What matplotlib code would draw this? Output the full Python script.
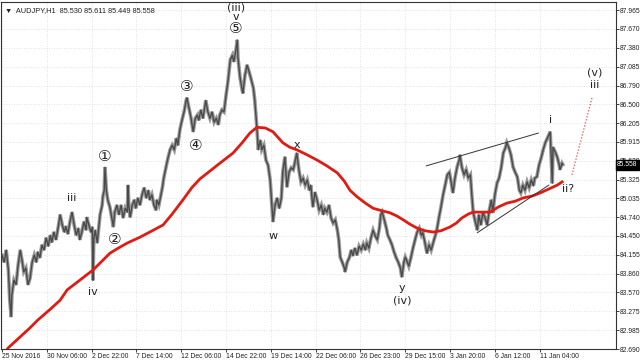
import matplotlib
matplotlib.use("Agg")
import matplotlib.pyplot as plt
import numpy as np

# ---- data (bar index, close price) ----
bars = [0,3,6,9,11,13,14,17,20,23,26,29,31,34,37,40,43,46,49,51,54,57,60,63,66,69,71,74,77,80,
        83,86,89,91,94,97,100,103,106,109,111,114,117,120,121,124,127,129,130,131,133,136,137,140,143,144,146,147,149,151,
        154,156,159,161,164,167,170,173,176,179,180,181,183,186,189,191,194,197,200,203,206,209,211,214,217,220,221,224,226,229,
        231,234,237,240,243,246,249,251,254,257,260,263,264,267,270,273,276,279,281,284,287,290,291,294,297,300,303,306,309,311,
        314,317,320,323,326,329,331,334,336,337,340,343,344,347,350,353,356,359,361,364,366,369,371,374,377,380,383,386,387,390,
        393,396,399,401,404,407,410,413,416,419,421,424,427,430,433,436,439,441,444,447,450,453,456,459,461,464,467,470,473,476,
        479,481,483,486,489,490,493,496,499,501,504,507,510,513,516,519,521,524,527,530,533,536,539,541,543,546,549,551,554,557,
        560,563,566,569,571,574,576,579,581,584,587,590,593,596,599,601,604,607,610,613,616,619,621,624,627,630,633,636,639,641,
        644,647,650,653,654,657,660,663,666,669,671,673,676,679,681,684,687,690,693,696,699,701,704,707,710,713,716,719,721,724,
        727,730,733,736,739,741,744,747,750,753,756,759,761,764,767,770,773,776,779,781,783,784,786,787,790,793,796,797,800,801]
close = [84.15,84.04,84.23,83.92,83.45,83.19,83.53,83.76,83.69,84.00,84.23,84.04,83.89,83.95,83.69,83.79,84.04,84.15,84.04,84.20,
         84.11,84.31,84.23,84.42,84.29,84.46,84.35,84.51,84.39,84.57,84.78,84.62,84.51,84.60,84.48,84.67,84.82,84.62,84.46,84.57,
         84.39,84.51,84.67,84.54,84.74,84.62,84.51,84.59,83.76,84.39,84.54,84.34,84.46,84.78,84.93,85.06,85.16,85.52,85.16,85.01,
         84.90,84.78,84.59,84.82,84.93,84.78,84.93,84.73,84.88,84.82,85.24,84.93,84.74,84.93,85.01,84.88,85.04,84.93,85.09,85.20,
         85.04,85.16,85.01,85.09,84.93,84.85,85.01,84.93,85.04,85.20,85.35,85.51,85.66,85.79,85.86,85.79,85.97,85.86,86.10,86.25,
         86.38,86.56,86.60,86.44,86.28,86.07,86.28,86.33,86.25,86.41,86.28,86.49,86.56,86.38,86.28,86.38,86.22,86.28,86.18,86.33,
         86.41,86.38,86.64,86.88,87.19,87.26,87.16,87.34,87.50,87.22,86.91,86.72,86.67,86.95,87.11,87.00,86.88,86.75,86.56,86.14,
         85.79,85.94,85.79,85.86,85.63,85.55,85.32,84.85,84.67,84.93,85.04,84.88,85.04,85.44,85.68,85.21,85.44,85.51,85.48,85.63,
         85.74,85.48,85.29,85.35,85.24,85.32,85.16,85.24,84.90,85.13,85.01,84.85,84.93,84.78,84.88,84.82,84.93,84.73,84.65,84.70,
         84.54,84.39,84.12,84.04,83.95,83.89,84.04,84.11,84.23,84.14,84.26,84.15,84.29,84.23,84.32,84.23,84.34,84.26,84.42,84.54,
         84.45,84.39,84.57,84.78,84.82,84.70,84.57,84.46,84.39,84.31,84.20,84.11,84.04,83.95,83.81,84.04,84.12,84.04,83.98,84.11,
         84.26,84.39,84.51,84.57,84.46,84.50,84.35,84.18,84.31,84.23,84.35,84.46,84.54,84.73,84.90,85.09,85.24,85.40,85.44,85.32,
         85.12,85.35,85.52,85.63,85.71,85.51,85.40,85.48,85.35,85.40,85.09,84.82,84.67,84.54,84.78,84.62,84.82,84.73,84.62,84.85,
         85.01,84.81,85.09,85.27,85.35,85.51,85.74,85.82,85.90,85.82,85.71,85.52,85.44,85.37,85.16,85.12,85.24,85.16,85.29,85.20,
         85.32,85.23,85.35,85.37,85.55,85.66,85.79,85.90,85.97,86.02,86.07,85.79,85.27,85.83,85.76,85.68,85.55,85.48,85.58,85.56]

ma_bars = [4,9,26,40,51,69,83,93,111,130,143,154,166,179,197,211,230,243,259,271,
           283,297,311,330,343,354,364,376,387,401,411,421,436,450,464,479,489,497,507,519,
           530,543,554,564,573,583,593,604,616,627,640,649,657,666,673,684,697,709,721,733,
           744,757,769,781,793,800]
ma_vals = [82.64,82.71,82.88,83.02,83.14,83.31,83.45,83.61,83.76,83.92,84.06,84.18,84.26,84.34,84.43,84.51,84.62,84.79,85.02,85.20,
           85.34,85.46,85.58,85.74,85.90,86.05,86.14,86.13,86.07,85.90,85.83,85.79,85.71,85.63,85.54,85.43,85.30,85.16,85.06,84.96,
           84.88,84.84,84.81,84.76,84.70,84.63,84.57,84.53,84.51,84.53,84.59,84.65,84.73,84.79,84.82,84.82,84.82,84.90,84.96,84.99,
           85.04,85.07,85.12,85.18,85.24,85.29]

upper_line = ([606, 766], [85.54, 86.05])
lower_line = ([679, 781], [84.50, 85.24])
proj_line = ([814, 843], [85.40, 86.61])

date_labels = ["25 Nov 2016", "30 Nov 06:00", "2 Dec 22:00", "7 Dec 14:00", "12 Dec 06:00",
               "14 Dec 22:00", "19 Dec 14:00", "22 Dec 06:00", "26 Dec 23:00", "29 Dec 15:00",
               "3 Jan 20:00", "6 Jan 12:00", "11 Jan 04:00"]
date_bars = [0, 64, 128, 192, 256, 320, 384, 448, 512, 576, 640, 704, 768]
price_ticks = [87.965, 87.670, 87.380, 87.085, 86.790, 86.500, 86.205, 85.915, 85.620, 85.325,
               85.035, 84.740, 84.450, 84.155, 83.860, 83.570, 83.275, 82.985, 82.690]
last_price = 85.558

wave_labels = [("(iii)", 334, 88.00), ("v", 334, 87.85), ("iii", 100, 85.04), ("iv", 130, 83.58),
               ("w", 387, 84.45), ("x", 421, 85.86), ("y", 571, 83.64), ("(iv)", 571, 83.45),
               ("i", 783, 86.25), ("ii?", 808, 85.18), ("(v)", 847, 86.99), ("iii", 847, 86.80)]
circle_labels = [("\u2460", 147, 85.69), ("\u2461", 161, 84.39), ("\u2462", 264, 86.78),
                 ("\u2463", 276, 85.86), ("\u2464", 334, 87.67)]

small_font = ["Liberation Sans", "DejaVu Sans"]

# ---- figure ----
fig = plt.figure(figsize=(6.4, 3.6), dpi=100)
ax = fig.add_axes([1/640, 11/360, 615/640, 347/360])
ax.set_xlim(-1.5, 877)
ax.set_ylim(82.69, 88.09)

ax.grid(True, color="#d8d8d8", linestyle=(0, (1, 2)), linewidth=0.6)
ax.set_axisbelow(True)

ax.plot(bars, close, color="#9a9a9a", linewidth=2.6, solid_joinstyle="miter", zorder=2)
ax.plot(bars, close, color="#4a4a4a", linewidth=1.0, zorder=3)
ax.plot(ma_bars, ma_vals, color="#e01b12", linewidth=2.0, zorder=4)
ax.plot(*upper_line, color="#333333", linewidth=0.7, zorder=4)
ax.plot(*lower_line, color="#333333", linewidth=0.7, zorder=4)
ax.plot(*proj_line, color="#e05050", linewidth=0.9, linestyle=(0, (1, 1.5)), zorder=4)

for t, xb, yp in wave_labels:
    ax.text(xb, yp, t, ha="center", va="center", fontsize=8, color="#222222", zorder=5,
            clip_on=False)
for t, xb, yp in circle_labels:
    ax.text(xb, yp, t, ha="center", va="center", fontsize=11, color="#222222",
            family=["DejaVu Sans", "Noto Sans CJK JP"], zorder=5)

ax.yaxis.tick_right()
ax.set_yticks(price_ticks)
ax.set_yticklabels([f"{v:.3f}" for v in price_ticks], family=small_font)
ax.set_xticks(date_bars)
ax.set_xticklabels(date_labels, family=small_font)
ax.tick_params(axis="y", labelsize=4.9, length=2, width=0.6, pad=1, colors="#222222")
ax.tick_params(axis="x", labelsize=4.9, length=2.5, width=0.6, pad=0.5, colors="#222222")
for lab in ax.get_xticklabels():
    lab.set_horizontalalignment("left")
for s in ax.spines.values():
    s.set_linewidth(0.8)
    s.set_color("#333333")

ax.text(1.002, last_price, f"{last_price:.3f}", transform=ax.get_yaxis_transform(),
        ha="left", va="center", fontsize=4.9, color="white", clip_on=False, family=small_font,
        bbox=dict(boxstyle="square,pad=0.2", fc="black", ec="black"), zorder=6)

ax.text(0.006, 0.985, "\u25bc  AUDJPY,H1  85.530 85.611 85.449 85.558", transform=ax.transAxes,
        ha="left", va="top", fontsize=5.3, color="#222222", family=small_font)

fig.savefig("out.png", dpi=100)
